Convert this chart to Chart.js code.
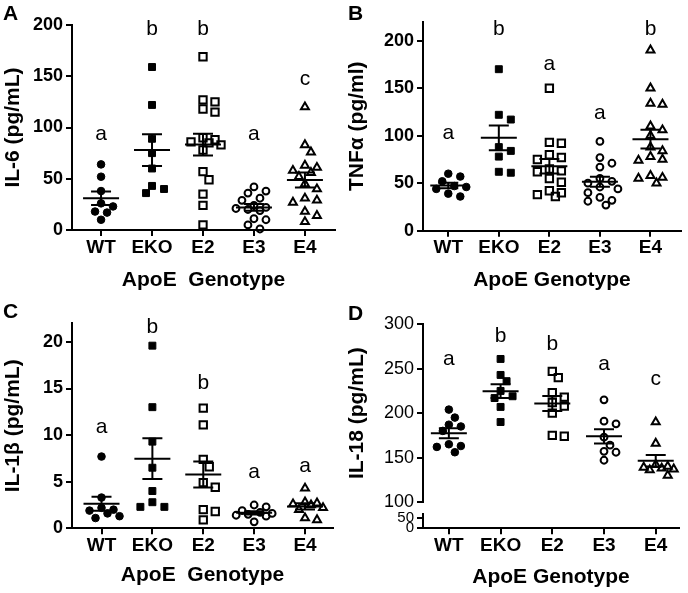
<!DOCTYPE html>
<html lang="en">
<head>
<meta charset="UTF-8">
<title>Cytokines by ApoE genotype</title>
<style>
  body { margin: 0; background: #fff; font-family: "Liberation Sans", Arial, sans-serif; }
  .fig { position: relative; width: 688px; height: 593px; overflow: hidden; }
  .panel { position: absolute; width: 344px; }
  .tag { position: absolute; font-weight: bold; font-size: 21px; line-height: 21px; }
</style>
</head>
<body>
<div class="fig">
  <div class="panel" style="left:0;top:0;height:296px"><canvas id="chartA"></canvas></div>
  <div class="panel" style="left:344px;top:0;height:296px"><canvas id="chartB"></canvas></div>
  <div class="panel" style="left:0;top:296px;height:297px"><canvas id="chartC"></canvas></div>
  <div class="panel" style="left:344px;top:296px;height:297px"><canvas id="chartD"></canvas></div>
  <div class="tag" style="left:3px;top:2px">A</div>
  <div class="tag" style="left:348px;top:2px">B</div>
  <div class="tag" style="left:3px;top:300px">C</div>
  <div class="tag" style="left:348px;top:302px">D</div>
</div>

<script src="https://cdn.jsdelivr.net/npm/chart.js"></script>
<script>
const genotypes = ['WT', 'EKO', 'E2', 'E3', 'E4'];

// values, one inner array per genotype
const il6 = [
  [64, 52, 38, 26, 23, 18, 17, 10],
  [159, 122, 89, 75, 60, 43, 40, 36],
  [169, 127, 125, 118, 115, 90, 88, 86, 85, 83, 78, 57, 49, 35, 24, 5],
  [42, 38, 36, 31, 29, 24, 22, 21, 20, 19, 11, 10, 5, 1],
  [120, 83, 76, 63, 61, 58, 56, 52, 45, 40, 31, 29, 27, 18, 14, 8]
];
const tnf = [
  [60, 57, 52, 47, 46, 44, 39, 36],
  [170, 122, 117, 88, 84, 78, 62, 61],
  [150, 93, 92, 80, 77, 75, 65, 63, 62, 55, 51, 42, 40, 38, 36],
  [94, 77, 71, 67, 55, 52, 50, 46, 44, 40, 35, 32, 31, 27],
  [190, 150, 134, 133, 110, 106, 100, 88, 84, 78, 75, 74, 58, 56, 55, 50]
];
const il1b = [
  [7.7, 3.3, 2.2, 2.0, 1.9, 1.6, 1.3, 1.1],
  [19.6, 13.0, 9.3, 6.5, 4.0, 2.8, 2.3, 2.3],
  [12.9, 11.1, 7.4, 6.6, 4.9, 4.4, 2.0, 1.8, 0.9],
  [2.5, 2.3, 1.9, 1.7, 1.6, 1.5, 1.4, 1.3, 0.7],
  [4.3, 2.8, 2.7, 2.6, 2.5, 2.2, 2.0, 1.1, 0.9]
];
const il18 = [
  [204, 195, 187, 185, 180, 165, 163, 162, 156],
  [261, 243, 236, 225, 219, 217, 207, 190],
  [247, 240, 223, 218, 212, 208, 200, 175, 174],
  [215, 191, 188, 173, 164, 157, 156, 147],
  [190, 166, 142, 140, 139, 138, 137, 136, 130]
];

// y tick labels
const il6Ticks = [0, 50, 100, 150, 200];
const tnfTicks = [0, 50, 100, 150, 200];
const il1bTicks = [0, 5, 10, 15, 20];
const il18Ticks = [100, 150, 200, 250, 300];
const il18LowTicks = [0, 50];

// significance letters and the value their baseline sits at
const il6Letters = ['a', 'b', 'b', 'a', 'c'];
const il6LetterY = [88, 190, 190, 88, 141];
const tnfLetters = ['a', 'b', 'a', 'a', 'b'];
const tnfLetterY = [97, 206, 169, 118, 206];
const il1bLetters = ['a', 'b', 'b', 'a', 'a'];
const il1bLetterY = [10.2, 21, 14.9, 5.4, 6];
const il18Letters = ['a', 'b', 'b', 'a', 'c'];
const il18LetterY = [254, 280, 271, 248.5, 231.6];

Chart.defaults.font.family = '"Liberation Sans", Arial, Helvetica, sans-serif';
Chart.defaults.color = '#000';

const symbolStyle = ['circle', 'rect', 'rect', 'circle', 'triangle'];
const symbolFill = ['#000', '#000', 'rgba(0,0,0,0)', 'rgba(0,0,0,0)', 'rgba(0,0,0,0)'];
const symbolRadius = [3.8, 4.9, 5.2, 3.4, 4.6];
const symbolBorder = [1, 1, 2, 2, 2];

const STEP = 6;    // horizontal step of the swarm (px)
const MAXK = 6;    // furthest step tried on either side
const GAP = 8.5;   // wanted distance between symbol centres (px)

function dotPlot(letters, letterY) {
  return {
    id: 'dotPlot',
    // spread points sideways (beeswarm), allowing overlap when the column is full
    afterLayout(chart) {
      const x = chart.scales.x, y = chart.scales.y;
      const unit = x.getPixelForValue(2) - x.getPixelForValue(1);
      chart.data.datasets.forEach((ds, g) => {
        const placed = [];
        const order = ds.data.map((p, i) => i).sort((a, b) => ds.data[b].y - ds.data[a].y);
        order.forEach(i => {
          const py = y.getPixelForValue(ds.data[i].y);
          let best = 0, bestDist = -1;
          for (let k = 0; k <= MAXK; k++) {
            const cand = (k % 2 ? 1 : -1) * Math.ceil(k / 2) * STEP;
            const d = placed.reduce((m, p) => Math.min(m, Math.hypot(p.x - cand, p.y - py)), Infinity);
            if (d >= GAP) { best = cand; break; }
            if (d > bestDist) { bestDist = d; best = cand; }
          }
          placed.push({x: best, y: py});
          ds.data[i].x = g + 1 + best / unit;
        });
      });
    },
    afterDatasetsDraw(chart) {
      const {ctx, scales: {x, y}} = chart;
      ctx.save();
      ctx.strokeStyle = '#000';
      ctx.lineWidth = 2;
      chart.data.datasets.forEach((ds, g) => {
        const vals = ds.data.map(p => p.y);
        const n = vals.length;
        const mean = vals.reduce((a, b) => a + b, 0) / n;
        const sd = Math.sqrt(vals.reduce((a, b) => a + (b - mean) ** 2, 0) / (n - 1));
        const sem = sd / Math.sqrt(n);
        const cx = x.getPixelForValue(g + 1);
        const pm = y.getPixelForValue(mean);
        const pt = y.getPixelForValue(mean + sem);
        const pb = y.getPixelForValue(mean - sem);
        ctx.beginPath();
        ctx.moveTo(cx - 18, pm); ctx.lineTo(cx + 18, pm);
        ctx.moveTo(cx - 10, pt); ctx.lineTo(cx + 10, pt);
        ctx.moveTo(cx - 10, pb); ctx.lineTo(cx + 10, pb);
        ctx.moveTo(cx, pt); ctx.lineTo(cx, pb);
        ctx.stroke();
      });
      ctx.fillStyle = '#000';
      ctx.font = '21px "Liberation Sans", Arial, sans-serif';
      ctx.textAlign = 'center';
      ctx.textBaseline = 'alphabetic';
      letters.forEach((t, g) => ctx.fillText(t, x.getPixelForValue(g + 1), y.getPixelForValue(letterY[g])));
      ctx.restore();
    }
  };
}

function axisLines() {
  return {
    grid: { drawOnChartArea: false, tickLength: 6, lineWidth: 2, color: '#000' },
    border: { color: '#000', width: 2 }
  };
}

function yAxis(p) {
  return {
    type: 'linear', position: 'left', bounds: 'data',
    min: p.yMin, max: p.yMax,
    afterBuildTicks: s => { s.ticks = p.yTicks.map(v => ({ value: v })); },
    afterFit: s => { s.width = p.yWidth; },
    ticks: { autoSkip: false, padding: 3, font: { size: p.yTickSize || 18, weight: p.yTickWeight || 'bold' } },
    ...axisLines(),
    title: p.yTitle
      ? { display: true, text: p.yTitle, font: { size: 21, weight: 'bold' }, padding: { top: 1, bottom: 0 } }
      : { display: false }
  };
}

function makePanel(id, p) {
  const yScales = p.yScales || { y: yAxis(p) };
  new Chart(document.getElementById(id), {
    type: 'scatter',
    data: {
      datasets: p.values.map((vals, g) => ({
        label: genotypes[g],
        yAxisID: 'y',
        parsing: false,
        clip: false,
        data: vals.map(v => ({ x: g + 1, y: v })),
        pointStyle: symbolStyle[g],
        pointRadius: symbolRadius[g],
        pointBorderWidth: symbolBorder[g],
        pointBackgroundColor: symbolFill[g],
        pointBorderColor: '#000'
      }))
    },
    options: {
      responsive: true,
      maintainAspectRatio: false,
      animation: false,
      events: [],
      layout: { padding: p.padding },
      plugins: { legend: { display: false }, tooltip: { enabled: false } },
      scales: {
        x: {
          type: 'linear', bounds: 'data', min: p.xMin, max: p.xMax,
          afterBuildTicks: s => { s.ticks = genotypes.map((_, i) => ({ value: i + 1 })); },
          afterFit: s => { s.height = p.xHeight; },
          ticks: { callback: v => genotypes[v - 1], font: { size: 19, weight: 'bold' },
                   padding: 0, maxRotation: 0, autoSkip: false },
          ...axisLines(),
          title: { display: true, text: p.xTitle, font: { size: 21, weight: 'bold' },
                   padding: { top: 0, bottom: p.titlePad } }
        },
        ...yScales
      }
    },
    plugins: [dotPlot(p.letters, p.letterY)]
  });
}

makePanel('chartA', {
  values: il6, letters: il6Letters, letterY: il6LetterY,
  padding: { left: 0, top: 25, right: 9, bottom: 0 },
  yWidth: 72, xHeight: 66, xMin: 0.43, xMax: 5.59,
  yMin: 0, yMax: 200, yTicks: il6Ticks, yTitle: 'IL-6 (pg/mL)',
  xTitle: 'ApoE  Genotype', titlePad: 3
});

makePanel('chartB', {
  values: tnf, letters: tnfLetters, letterY: tnfLetterY,
  padding: { left: 0, top: 21.7, right: 1, bottom: 0 },
  yWidth: 79, xHeight: 65.3, xMin: 0.5, xMax: 5.6,
  yMin: 0, yMax: 220, yTicks: tnfTicks, yTitle: 'TNFα (pg/ml)',
  xTitle: 'ApoE Genotype', titlePad: 3
});

makePanel('chartC', {
  values: il1b, letters: il1bLetters, letterY: il1bLetterY,
  padding: { left: 0, top: 27.3, right: 11, bottom: 0 },
  yWidth: 72, xHeight: 64.7, xMin: 0.42, xMax: 5.55,
  yMin: 0, yMax: 22, yTicks: il1bTicks, yTitle: 'IL-1β (pg/mL)',
  xTitle: 'ApoE  Genotype', titlePad: 5
});

// panel D has a broken y axis: a 0-50 stub below, 100-300 above
makePanel('chartD', {
  values: il18, letters: il18Letters, letterY: il18LetterY,
  padding: { left: 0, top: 28.3, right: 9, bottom: 0 },
  xHeight: 64.7, xMin: 0.5, xMax: 5.45,
  xTitle: 'ApoE Genotype', titlePad: 3,
  yScales: {
    yLow: {
      ...yAxis({ yMin: 0, yMax: 71.5, yTicks: il18LowTicks, yWidth: 79, yTickSize: 15, yTickWeight: 'normal' }),
      stack: 'd', stackWeight: 14.3
    },
    yGap: { type: 'linear', position: 'left', stack: 'd', stackWeight: 12, display: false, min: 0, max: 1 },
    y: {
      ...yAxis({ yMin: 100, yMax: 300, yTicks: il18Ticks, yWidth: 79, yTickWeight: 'normal', yTitle: 'IL-18 (pg/mL)' }),
      stack: 'd', stackWeight: 177.7
    }
  }
});
</script>
</body>
</html>
